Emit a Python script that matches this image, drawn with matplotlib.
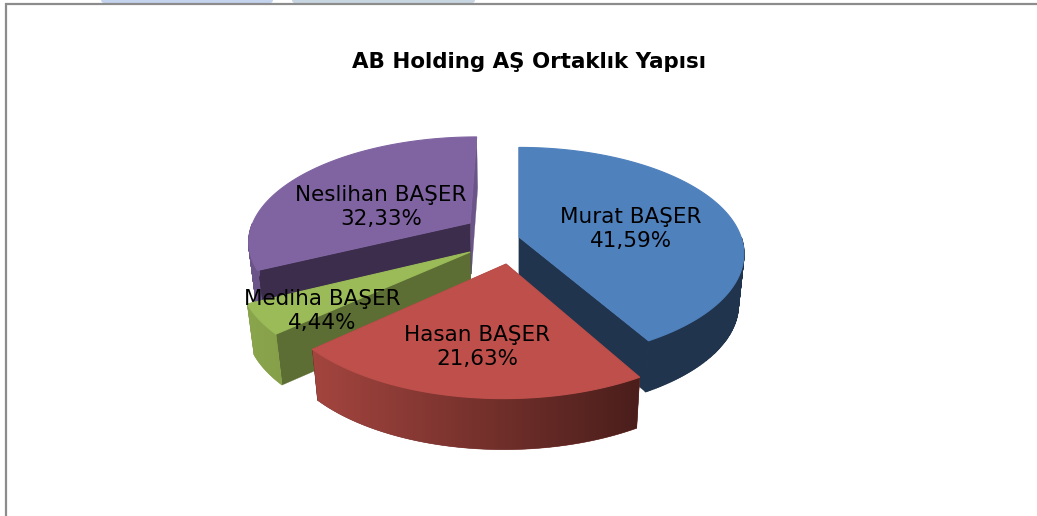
import numpy as np
import matplotlib
matplotlib.use("Agg")
import matplotlib.pyplot as plt
from matplotlib.colors import to_rgb
from matplotlib.patches import Polygon, FancyBboxPatch

# data
names = ["Murat BAŞER", "Hasan BAŞER", "Mediha BAŞER", "Neslihan BAŞER"]
shares = [41.59, 21.63, 4.44, 32.33]
title = "AB Holding AŞ Ortaklık Yapısı"

# look of each slice, same order as names
top_colors = ["#4f81bd", "#be4f4b", "#9bbb59", "#8064a2"]
wall_colors = ["#20344d", "#4c1f1c", "#5c6e33", "#3c2d4c"]
back_wall_colors = ["#20344d", "#4c1f1c", "#5c6e33", "#6a5488"]
rim_left_colors = ["#20344d", "#a4453f", "#8aa64c", "#6a5488"]
rim_right_colors = ["#20344d", "#4a1e1b", "#86a04a", "#6a5488"]
explode_u = [0.0, -0.056, -0.215, -0.225]
explode_v = [0.118, 0.368, 0.259, -0.02]
label_x = [631, 477, 322, 381]
label_y = [229, 347, 311, 207]

# projection of the tilted pie, all in pixels of the figure
cx, cy = 519, 225
radius, radius_y = 218, 100
persp = 0.155
height = 51
bottom_narrow = 0.975


def project(u, v):
    s = 1 / (1 - persp * v)
    return cx + radius * u * s, cy + radius_y * v * s


def slice_points(a0, a1, ex, ev):
    ang = np.radians(np.linspace(a0, a1, 240))
    return project(np.sin(ang) + ex, -np.cos(ang) + ev)


def lower(x, y):
    return cx + (x - cx) * bottom_narrow, y + height


def add_wall(ax, p0, p1, color, zorder):
    bx0, by0 = lower(*p0)
    bx1, by1 = lower(*p1)
    ax.add_patch(Polygon([p0, p1, (bx1, by1), (bx0, by0)],
                         closed=True, fc=color, ec=color, lw=0.2, zorder=zorder))


def add_rim(ax, x, y, apex_y, left, right, zorder):
    bx, by = lower(x, y)
    if left == right:
        # one colour: strips, they also keep the outline at the widest point
        # the back part is hidden by the top face anyway
        for j in range(len(x) - 1):
            if y[j] < apex_y or y[j + 1] < apex_y:
                continue
            ax.add_patch(Polygon([(x[j], y[j]), (x[j + 1], y[j + 1]),
                                  (bx[j + 1], by[j + 1]), (bx[j], by[j])],
                                 closed=True, fc=left, ec=left, lw=1.0, zorder=zorder))
        return
    pts = list(zip(x, y)) + list(zip(bx[::-1], by[::-1]))
    c0 = np.array(to_rgb(left))
    c1 = np.array(to_rgb(right))
    poly = Polygon(pts, closed=True, fc=tuple((c0 + c1) / 2), ec=tuple((c0 + c1) / 2),
                   lw=0.4, zorder=zorder)
    ax.add_patch(poly)
    # horizontal shading, clipped to the outer face
    xs = np.array([p[0] for p in pts])
    ys = np.array([p[1] for p in pts])
    t = np.linspace(0, 1, 256)[None, :, None]
    im = ax.imshow(c0 + (c1 - c0) * t, extent=[xs.min(), xs.max(), ys.max(), ys.min()],
                   aspect="auto", interpolation="bilinear", zorder=zorder)
    im.set_clip_path(poly)


fig = plt.figure(figsize=(10.37, 5.16), dpi=100)
ax = fig.add_axes([0, 0, 1, 1])
ax.axis("off")

# bits of the page above the chart frame
ax.add_patch(FancyBboxPatch((101, -10), 172, 13, boxstyle="round,pad=0,rounding_size=3",
                            fc="#c5d4ee", ec="none", zorder=0))
ax.add_patch(FancyBboxPatch((292, -10), 183, 13, boxstyle="round,pad=0,rounding_size=3",
                            fc="#c8d6e2", ec="none", zorder=0))
ax.plot([5.5, 5.5, 1037], [516, 3.5, 3.5], color="#8c8c8c", lw=1.6, zorder=1,
        solid_joinstyle="miter")

starts = np.concatenate([[0], np.cumsum(shares)[:-1]]) / sum(shares) * 360
ends = np.cumsum(shares) / sum(shares) * 360

# back slices first, the front ones cover them
order = [3, 0, 2, 1]
for z, i in enumerate(order, start=2):
    x, y = slice_points(starts[i], ends[i], explode_u[i], explode_v[i])
    apex = project(explode_u[i], explode_v[i])
    first = (x[0], y[0])
    last = (x[-1], y[-1])

    # cut faces, the one further back goes down first
    if y[0] < y[-1]:
        add_wall(ax, apex, first, back_wall_colors[i], z)
        add_wall(ax, apex, last, wall_colors[i], z)
    else:
        add_wall(ax, apex, last, back_wall_colors[i], z)
        add_wall(ax, apex, first, wall_colors[i], z)

    add_rim(ax, x, y, apex[1], rim_left_colors[i], rim_right_colors[i], z)

    # top face
    pts = [apex] + list(zip(x, y))
    ax.add_patch(Polygon(pts, closed=True, fc=top_colors[i], ec=top_colors[i],
                         lw=0.8, zorder=z))

for i, name in enumerate(names):
    value = f"{shares[i]:.2f}".replace(".", ",") + "%"
    ax.text(label_x[i], label_y[i], name + "\n" + value, ha="center", va="center",
            fontsize=15.5, color="black", linespacing=1.22, zorder=10)

ax.text(529, 62, title, ha="center", va="center", fontsize=15.4, fontweight="bold",
        color="black", zorder=10)

ax.set_xlim(0, 1037)
ax.set_ylim(516, 0)
fig.savefig("out.png", dpi=100)
